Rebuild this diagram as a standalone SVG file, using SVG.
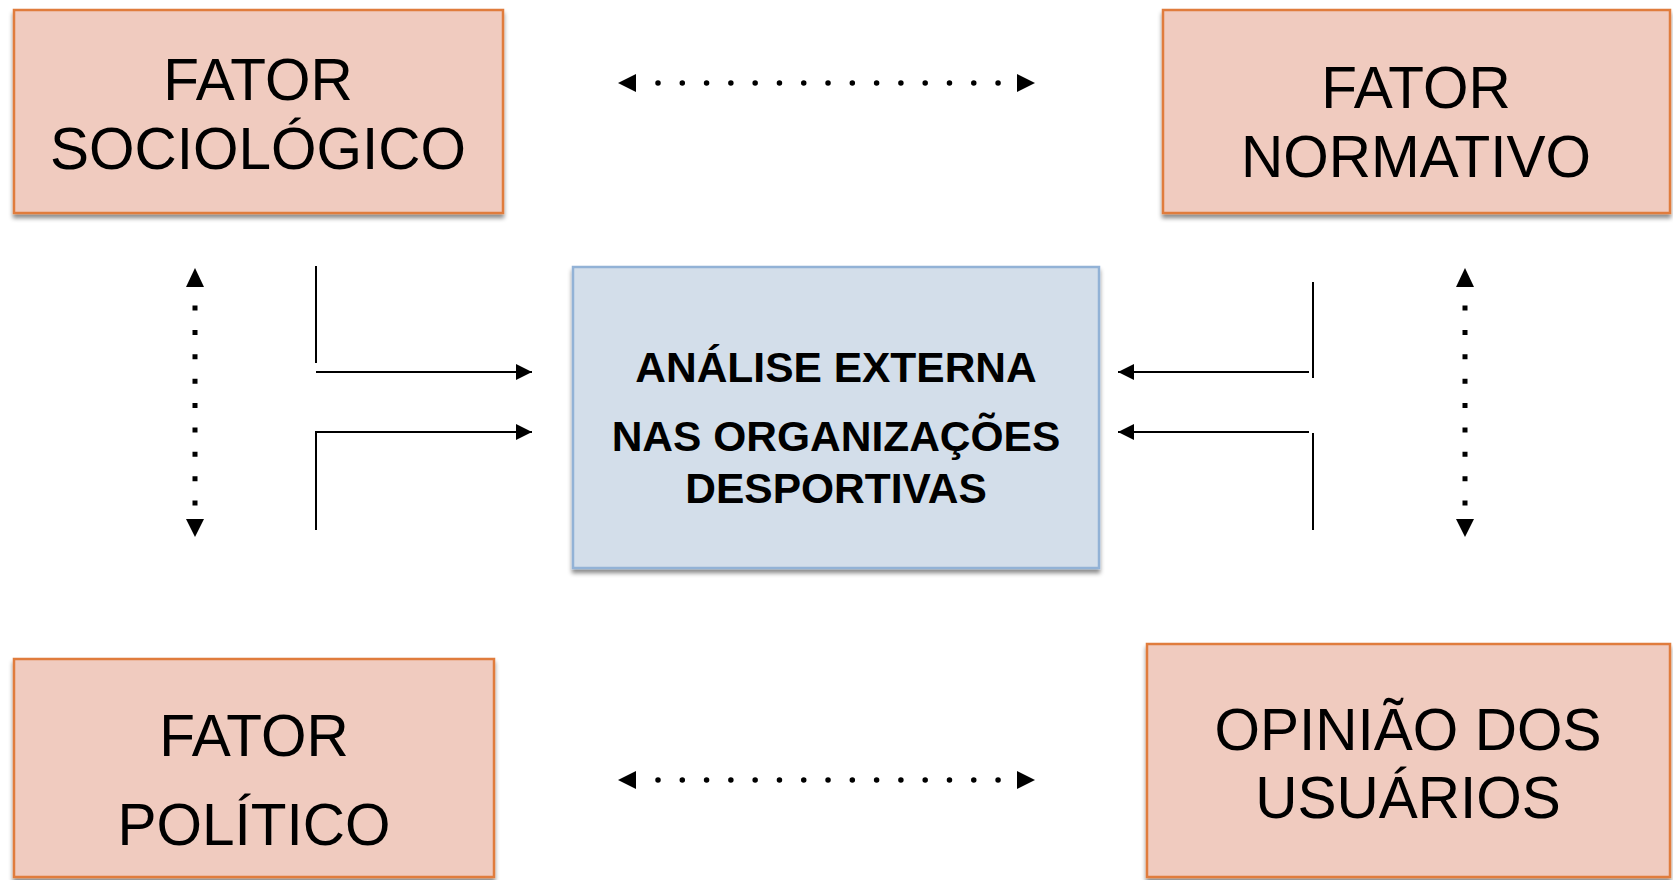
<svg xmlns="http://www.w3.org/2000/svg" width="1673" height="880" viewBox="0 0 1673 880">
<style>
.factor{fill:#F0CBBF;stroke:#E07B3C;stroke-width:2.5;filter:url(#shadow)}
.center{fill:#D3DEEA;stroke:#92B2D6;stroke-width:2.5;filter:url(#shadow)}
.ft{font-family:"Liberation Sans",Arial,sans-serif;font-size:58.5px;fill:#000;text-anchor:middle}
.ct{font-family:"Liberation Sans",Arial,sans-serif;font-size:42.5px;font-weight:bold;fill:#000;text-anchor:middle}
.solid{fill:none;stroke:#000;stroke-width:2}
.hdots{fill:none;stroke:#000;stroke-width:5.5;stroke-linecap:round;stroke-dasharray:0 24.29}
.vdots{fill:none;stroke:#000;stroke-width:5;stroke-dasharray:5 19.375}
.head{fill:#000}
</style>
<defs>
<filter id="shadow" x="-5%" y="-5%" width="115%" height="120%">
<feDropShadow dx="0" dy="4" stdDeviation="2.2" flood-color="#000" flood-opacity="0.45"/>
</filter>
<marker id="arr" markerUnits="userSpaceOnUse" markerWidth="16" markerHeight="16" refX="16" refY="8" orient="auto">
<path d="M0,0 L16,8 L0,16 z" fill="#000"/>
</marker>
</defs>
<rect width="1673" height="880" fill="#fff"/>
<g id="node-sociologico">
<rect class="factor" x="14" y="10" width="489" height="203"/>
<text class="ft" x="258" y="100">FATOR</text>
<text class="ft" x="258" y="169">SOCIOLÓGICO</text>
</g>
<g id="node-normativo">
<rect class="factor" x="1163" y="10" width="507" height="203"/>
<text class="ft" x="1416" y="108">FATOR</text>
<text class="ft" x="1416" y="177">NORMATIVO</text>
</g>
<g id="node-analise">
<rect class="center" x="573" y="267" width="526" height="301"/>
<text class="ct" x="836" y="382">ANÁLISE EXTERNA</text>
<text class="ct" x="836" y="451">NAS ORGANIZAÇÕES</text>
<text class="ct" x="836" y="503">DESPORTIVAS</text>
</g>
<g id="node-politico">
<rect class="factor" x="14" y="659" width="480" height="218"/>
<text class="ft" x="254" y="756">FATOR</text>
<text class="ft" x="254" y="845">POLÍTICO</text>
</g>
<g id="node-opiniao">
<rect class="factor" x="1147" y="644" width="523" height="233"/>
<text class="ft" x="1408" y="750">OPINIÃO DOS</text>
<text class="ft" x="1408" y="818">USUÁRIOS</text>
</g>
<g id="connectors">
<line class="hdots" x1="658" y1="83" x2="1001" y2="83"/>
<polygon class="head" points="618,83 636,74 636,92"/>
<polygon class="head" points="1035,83 1017,74 1017,92"/>
<line class="hdots" x1="658" y1="780" x2="1001" y2="780"/>
<polygon class="head" points="618,780 636,771 636,789"/>
<polygon class="head" points="1035,780 1017,771 1017,789"/>
<line class="vdots" x1="195" y1="305.5" x2="195" y2="506"/>
<polygon class="head" points="195,268 186,287 204,287"/>
<polygon class="head" points="195,537 186,519 204,519"/>
<line class="vdots" x1="1465" y1="305.5" x2="1465" y2="506"/>
<polygon class="head" points="1465,268 1456,287 1474,287"/>
<polygon class="head" points="1465,537 1456,519 1474,519"/>
<line class="solid" x1="316" y1="266" x2="316" y2="363"/>
<line class="solid" x1="316" y1="372" x2="532" y2="372" marker-end="url(#arr)"/>
<path class="solid" d="M316,530 V432 H532" marker-end="url(#arr)"/>
<line class="solid" x1="1313" y1="282" x2="1313" y2="378"/>
<line class="solid" x1="1309" y1="372" x2="1118" y2="372" marker-end="url(#arr)"/>
<line class="solid" x1="1309" y1="432" x2="1118" y2="432" marker-end="url(#arr)"/>
<line class="solid" x1="1313" y1="433" x2="1313" y2="530"/>
</g>
</svg>
